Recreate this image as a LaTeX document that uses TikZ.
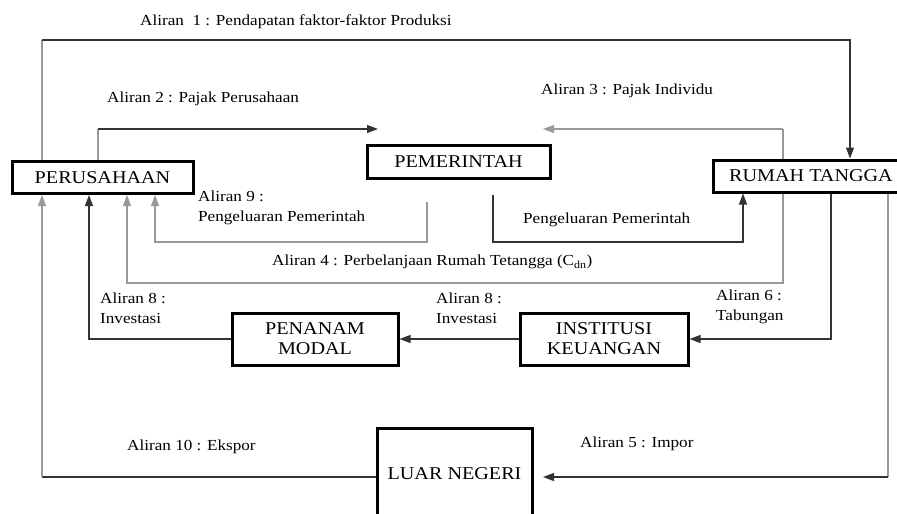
\documentclass[tikz,border=0pt]{standalone}
\usepackage{fontspec}
\setmainfont{Liberation Serif}[FakeStretch=1.12]
\usetikzlibrary{arrows.meta}
\tikzset{
  box/.style={draw=black, line width=3pt, fill=white, inner sep=0pt, align=center, font=\fontsize{18}{20}\selectfont},
  lbl/.style={anchor=west, inner sep=0pt, align=left, font=\fontsize{15.3}{20}\selectfont, text=black},
  dk/.style={draw=black!80, line width=1.1pt},
  lt/.style={draw=black!40, line width=1.1pt},
  tip/.style={-{Triangle[length=11pt,width=8pt]}}
}
\begin{document}
\begin{tikzpicture}[x=1pt,y=-1pt]
\clip (0,0) rectangle (897,514);
\fill[white] (0,0) rectangle (897,514);
% boxes
\node[box, minimum width=181, minimum height=32] (per) at (102.5,177.5) {PERUSAHAAN};
\node[box, minimum width=183, minimum height=33] (pem) at (458.5,161.5) {PEMERINTAH};
\node[box, minimum width=196, minimum height=32] (rt) at (811,176) {RUMAH TANGGA};
\node[box, minimum width=166, minimum height=52] (pm) at (315,339) {PENANAM\\MODAL};
\node[box, minimum width=168, minimum height=52] (ik) at (604,339) {INSTITUSI\\KEUANGAN};
\node[box, minimum width=155, minimum height=92] (ln) at (454.5,474) {LUAR NEGERI};
% coordinates
\coordinate (a1l) at (42,40);
\coordinate (a1r) at (850,40);
\coordinate (a2l) at (98,129);
\coordinate (a2e) at (378,129);
\coordinate (a3r) at (783,129);
\coordinate (a3e) at (543,129);
\coordinate (pgs) at (493,195);
\coordinate (pgb) at (493,242);
\coordinate (pge) at (743,242);
\coordinate (a9s) at (427,202);
\coordinate (a9b) at (427,242);
\coordinate (a9l) at (155,242);
\coordinate (a4r) at (783,283);
\coordinate (a4l) at (127,283);
\coordinate (a8l) at (89,339);
\coordinate (a6r) at (831,339);
\coordinate (a5r) at (888,477);
\coordinate (a5e) at (543,477);
\coordinate (a10l) at (42,477);
% Aliran 1
\draw[lt] (a1l |- per.north) -- (a1l);
\draw[dk,tip] (a1l) -- (a1r) -- (a1r |- rt.north);
% Aliran 2
\draw[lt] (a2l |- per.north) -- (a2l);
\draw[dk,tip] (a2l) -- (a2e);
% Aliran 3
\draw[lt] (a3r |- rt.north) -- (a3r);
\draw[lt,tip] (a3r) -- (a3e);
% Pengeluaran Pemerintah (to RT)
\draw[dk,tip] (pgs) -- (pgb) -- (pge) -- (pge |- rt.south);
% Aliran 9
\draw[lt,tip] (a9s) -- (a9b) -- (a9l) -- (a9l |- per.south);
% Aliran 4
\draw[lt,tip] (a4r |- rt.south) -- (a4r) -- (a4l) -- (a4l |- per.south);
% Aliran 8 (left)
\draw[dk,tip] (pm.west) -- (a8l) -- (a8l |- per.south);
% Aliran 8 (middle)
\draw[dk,tip] (ik.west) -- (pm.east);
% Aliran 6
\draw[dk,tip] (a6r |- rt.south) -- (a6r) -- (ik.east);
% Aliran 5
\draw[lt] (a5r |- rt.south) -- (a5r);
\draw[dk,tip] (a5r) -- (a5e);
% Aliran 10
\draw[dk] (ln.west |- a10l) -- (a10l);
\draw[lt,tip] (a10l) -- (a10l |- per.south);
% labels
\node[lbl] (t1) at (140,22) {Aliran\ \ 1 : Pendapatan faktor-faktor Produksi};
\node[lbl] (t2) at (107,99) {Aliran 2 : Pajak Perusahaan};
\node[lbl] (t3) at (541,91) {Aliran 3 : Pajak Individu};
\node[lbl] (t9) at (198,208) {Aliran 9 :\\Pengeluaran Pemerintah};
\node[lbl] (tpg) at (523,220) {Pengeluaran Pemerintah};
\node[lbl] (t4) at (272,262) {Aliran 4 : Perbelanjaan Rumah Tetangga (C\textsubscript{dn})};
\node[lbl] (t8a) at (100,308) {Aliran 8 :\\Investasi};
\node[lbl] (t8b) at (436,308) {Aliran 8 :\\Investasi};
\node[lbl] (t6) at (716,307) {Aliran 6 :\\Tabungan};
\node[lbl] (t10) at (127,447) {Aliran 10 : Ekspor};
\node[lbl] (t5) at (580,444) {Aliran 5 : Impor};
\end{tikzpicture}
\end{document}
